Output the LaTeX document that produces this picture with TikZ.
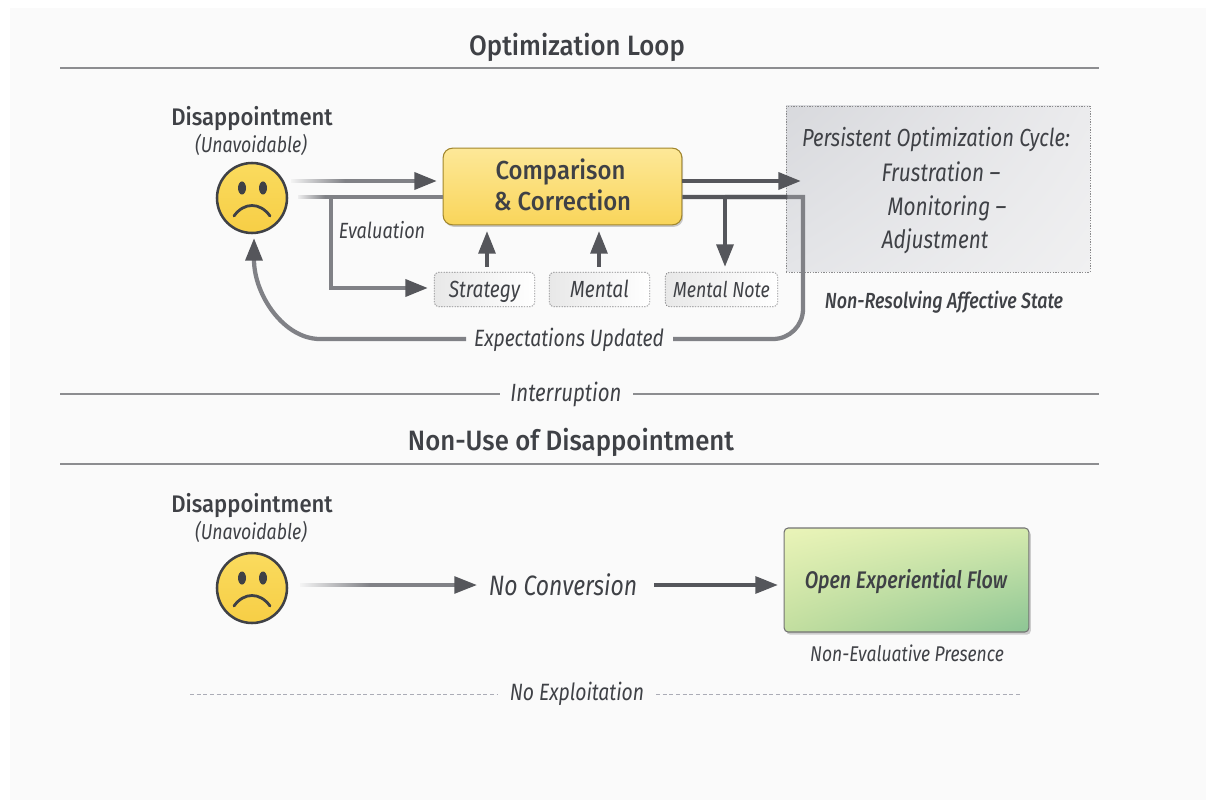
\documentclass[tikz,border=0pt]{standalone}
\usepackage{fontspec}
\setmainfont{Fira Sans}[ItalicFont={Fira Sans Italic},ItalicFeatures={FakeStretch=0.82}]
\newfontfamily\medfont{Fira Sans Medium}[FakeStretch=0.92]
\newfontfamily\meditfont{Fira Sans Medium Italic}[FakeStretch=0.82]
\usetikzlibrary{arrows.meta,shadows,fadings,calc,shadings}
\definecolor{bgc}{HTML}{FAFAFA}
\definecolor{ink}{HTML}{3F4146}
\definecolor{shaft}{HTML}{808186}
\definecolor{dark}{HTML}{55565B}
\definecolor{rulec}{HTML}{8C8D90}
\definecolor{dashc}{HTML}{ABACB6}
\definecolor{dotc}{HTML}{8A8A8C}
\definecolor{gold1}{HTML}{FADB5E}
\definecolor{gold2}{HTML}{F7CE45}
\definecolor{HLa}{HTML}{FDE898}
\definecolor{HLb}{HTML}{F9D55A}
\definecolor{HLc}{HTML}{D8D9DD}
\definecolor{HLc2}{HTML}{E4E5E8}
\definecolor{HLd}{HTML}{EBEBED}
\definecolor{HLd2}{HTML}{F0F0F1}
\definecolor{HLe}{HTML}{EAF4B8}
\definecolor{HLf}{HTML}{D5EAAE}
\definecolor{HLg}{HTML}{C2DE9F}
\definecolor{HLh}{HTML}{8CC594}
\tikzset{
  x=0.75pt,y=-0.75pt,
  headtxt/.style={anchor=base,inner sep=0pt,text=ink,font=\medfont\fontsize{18}{18}\selectfont},
  titletxt/.style={anchor=base,inner sep=0pt,text=ink,font=\medfont\fontsize{21}{21}\selectfont},
  subtxt/.style={anchor=base,inner sep=0pt,text=ink,font=\itshape\fontsize{16.2}{16.2}\selectfont},
  labtxt/.style={anchor=base,inner sep=0pt,text=ink,font=\itshape\fontsize{17.5}{17.5}\selectfont},
  bigtxt/.style={anchor=base,inner sep=0pt,text=ink,font=\itshape\fontsize{21}{21}\selectfont},
  rulestyle/.style={draw=rulec,line width=1pt},
  dashstyle/.style={draw=dashc,line width=0.7pt,dash pattern=on 3pt off 2pt},
  faceball/.style={circle,minimum size=52.5pt,inner sep=0pt,draw=ink,line width=1.9pt,top color=gold1,bottom color=gold2},
  smallbox/.style={rounded corners=3.5pt,draw=dotc,line width=0.6pt,dash pattern=on 1pt off 1pt,left color=black!9,right color=white,
     minimum height=26pt,inner sep=0pt,text=ink,text height=12pt,text depth=0pt,font=\itshape\fontsize{17.5}{17.5}\selectfont},
  shaftline/.style={draw=shaft,line width=3.4pt},
  darkline/.style={draw=dark,line width=3.4pt},
  arrowhead/.style={-{Stealth[length=17pt,width=12.5pt,inset=0pt,color=dark]}},
}
\newcommand{\frownface}[1]{%
  \fill[ink] ($(#1)+(-10,-10)$) ellipse[x radius=4,y radius=6.5];
  \fill[ink] ($(#1)+(11,-10)$) ellipse[x radius=4,y radius=6.5];
  \draw[ink,line width=2.1pt,line cap=round] ($(#1)+(-18,18)$) .. controls ($(#1)+(-8,4)$) and ($(#1)+(8,4)$) .. ($(#1)+(18,18)$);
}
\begin{document}
\begin{tikzpicture}
\useasboundingbox (0,0) rectangle (1206,802);
\fill[white] (0,0) rectangle (1206,802);
\fill[bgc] (10,8) rectangle (1206,800);

% --- top section
\node[titletxt] (t1) at (577,56) {Optimization Loop};
\coordinate (r1a) at (60,68); \coordinate (r1b) at (1099,68);
\draw[rulestyle] (r1a) -- (r1b);

\node[headtxt] (d1) at (252,126) {Disappointment};
\node[subtxt] (u1) at (251,153) {(Unavoidable)};
\node[faceball] (f1) at (252,198) {};
\frownface{f1}

\node[rounded corners=7pt,draw=black!35!gold2,line width=0.8pt,top color=HLa,bottom color=HLb,
  minimum width=179pt,minimum height=57.5pt,inner sep=0pt,drop shadow={shadow xshift=1pt,shadow yshift=-1.5pt,opacity=.2,fill=black}] (cmp) at (562.5,186.5) {};
\node[headtxt,font=\medfont\fontsize{19.5}{19.5}\selectfont] (cmpa) at (560.5,180) {Comparison};
\node[headtxt,font=\medfont\fontsize{19.5}{19.5}\selectfont] (cmpb) at (562.5,211) {\& Correction};

\node[rectangle,draw=dotc,line width=0.7pt,dash pattern=on 1pt off 1pt,shading=bilinear interpolation,upper left=HLc,lower left=HLc2,upper right=HLd,lower right=HLd2,
  minimum width=228pt,minimum height=124.5pt,inner sep=0pt] (cyc) at (938,189) {};
\node[labtxt,font=\itshape\fontsize{18.5}{18.5}\selectfont] (c1) at (936,146.5) {Persistent Optimization Cycle:};
\node[labtxt,font=\itshape\fontsize{19}{19}\selectfont] (c2) at (941,182) {Frustration –};
\node[labtxt,font=\itshape\fontsize{19}{19}\selectfont] (c3) at (947,216) {Monitoring –};
\node[labtxt,font=\itshape\fontsize{19}{19}\selectfont] (c4) at (935,249) {Adjustment};
\node[anchor=base,inner sep=0pt,text=ink,font=\meditfont\fontsize{16.4}{16.4}\selectfont] (nr) at (944,308) {Non-Resolving Affective State};

\node[smallbox,minimum width=75.5pt] (s1) at (484.5,289.5) {Strategy};
\node[smallbox,minimum width=75.5pt] (s2) at (599.5,289.5) {Mental};
\node[smallbox,minimum width=84.5pt,font=\itshape\fontsize{16.3}{16.3}\selectfont] (s3) at (721.5,289.5) {Mental Note};

\node[labtxt,font=\itshape\fontsize{16.5}{16.5}\selectfont] (ev) at (382,238.5) {Evaluation};
\node[labtxt,font=\itshape\fontsize{17.7}{17.7}\selectfont] (ex) at (569,346) {Expectations Updated};

% coordinates for the connectors
\coordinate (a1s) at (291,181); \coordinate (a1e) at (437,181);
\coordinate (a2s) at (298,197); \coordinate (a2e) at (cmp.west |- a2s);
\coordinate (brt) at (331,197); \coordinate (brc) at (331,288); \coordinate (bre) at (428,288);
\coordinate (a3s) at (cmp.east |- a1s); \coordinate (a3e) at (801,181);
\coordinate (a4s) at (cmp.east |- a2s); \coordinate (a4j) at (725,197); \coordinate (a4x) at (725,267);
\coordinate (a4c) at (803,197); \coordinate (a4b) at (803,300);
\coordinate (a4d) at (803,339); \coordinate (a4f) at (673,339);
\coordinate (fbs) at (466,339); \coordinate (fbm) at (320,339);
\coordinate (fbt) at (254,238);
\coordinate (u1s) at (487,267); \coordinate (u1e) at (487,231);
\coordinate (u2s) at (599,267); \coordinate (u2e) at (599,231);

\draw[shaftline,arrowhead] (a1s) -- (a1e);
\draw[shaftline] (a2s) -- (a2e);
\draw[shaftline,line join=miter,arrowhead] (brt) -- (brc) -- (bre);
\draw[darkline,arrowhead] (a3s) -- (a3e);
\draw[shaftline,line width=3.2pt] (a4j) -- (a4c) -- (a4b) [rounded corners=22.5pt] -- (a4d) -- (a4f);
\draw[darkline,line width=3.2pt] (a4s) -- ($(a4j)!0.8!(a4c)$);
\draw[darkline,line width=3.2pt,arrowhead] (a4j) -- (a4x);
\draw[shaftline,line width=3.2pt,arrowhead] (fbs) -- (fbm) .. controls (284,339) and (254,295) .. (fbt);
\draw[darkline,line width=3pt,arrowhead] (u1s) -- (u1e);
\draw[darkline,line width=3pt,arrowhead] (u2s) -- (u2e);

% start fades
\fill[bgc,path fading=east] (288,172) rectangle (345,189);
\fill[bgc,path fading=east] (295,190) rectangle (325,203);

% --- interruption
\node[labtxt,font=\itshape\fontsize{18.7}{18.7}\selectfont] (in) at (566,401) {Interruption};
\coordinate (i1a) at (60,394); \coordinate (i1b) at (500,394);
\coordinate (i2a) at (633,394); \coordinate (i2b) at (1099,394);
\draw[rulestyle] (i1a) -- (i1b);
\draw[rulestyle] (i2a) -- (i2b);

% --- bottom section
\node[titletxt] (t2) at (571,450.5) {Non-Use of Disappointment};
\coordinate (r2a) at (60,464); \coordinate (r2b) at (1099,464);
\draw[rulestyle] (r2a) -- (r2b);

\node[headtxt] (d2) at (252,512) {Disappointment};
\node[subtxt] (u2) at (251,539) {(Unavoidable)};
\node[faceball] (f2) at (252,588) {};
\frownface{f2}

\node[bigtxt] (nc) at (563,595) {No Conversion};
\node[rounded corners=3pt,draw=black!55,line width=0.8pt,shading=bilinear interpolation,upper left=HLe,upper right=HLf,lower left=HLg,lower right=HLh,
  minimum width=183.5pt,minimum height=78pt,inner sep=0pt,drop shadow={shadow xshift=1.5pt,shadow yshift=-2pt,opacity=.18,fill=black}] (gr) at (906.5,580) {};
\node[anchor=base,inner sep=0pt,text=ink,font=\meditfont\fontsize{18}{18}\selectfont] (grt) at (906,588) {Open Experiential Flow};
\node[subtxt,font=\itshape\fontsize{16}{16}\selectfont] (ne) at (907,661) {Non-Evaluative Presence};

\coordinate (b1s) at (300,585); \coordinate (b1e) at (477,585);
\coordinate (b2s) at (654,585); \coordinate (b2e) at (778,585);
\draw[shaftline,line width=2.8pt,arrowhead] (b1s) -- (b1e);
\draw[darkline,line width=3pt,arrowhead] (b2s) -- (b2e);
\fill[bgc,path fading=east] (297,578) rectangle (370,592);

\node[subtxt,font=\itshape\fontsize{17.7}{17.7}\selectfont] (ne2) at (577,700.5) {No Exploitation};
\coordinate (n1a) at (190,694); \coordinate (n1b) at (497,694);
\coordinate (n2a) at (656,694); \coordinate (n2b) at (1022,694);
\draw[dashstyle] (n1a) -- (n1b);
\draw[dashstyle] (n2a) -- (n2b);
\end{tikzpicture}
\end{document}
